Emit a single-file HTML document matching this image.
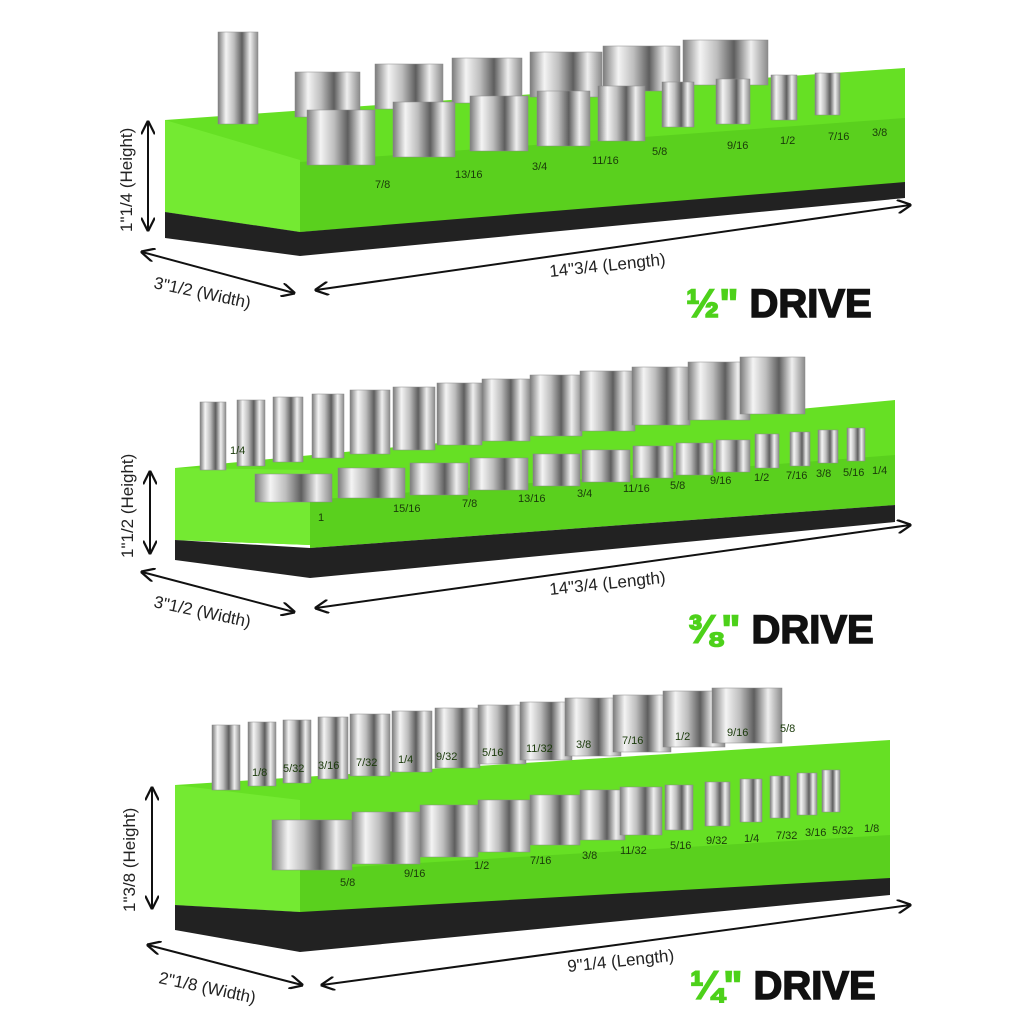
<!DOCTYPE html>
<html><head><meta charset="utf-8"><style>
html,body{margin:0;padding:0;background:#fff;}
svg{display:block}
text{font-family:"Liberation Sans",sans-serif;}
.l{font-size:11px;fill:#1a3a0a;}
.d{font-size:17px;fill:#222;}
.big{font-size:40px;font-weight:bold;fill:#111;stroke:#111;stroke-width:1.5;}
.g{fill:#4dd11a;stroke:#4dd11a;}
</style></head><body>
<svg width="1024" height="1024" viewBox="0 0 1024 1024" xmlns="http://www.w3.org/2000/svg">
<defs>
<linearGradient id="s" x1="0" x2="1" y1="0" y2="0">
<stop offset="0" stop-color="#7a7a7a"/><stop offset=".2" stop-color="#f4f4f4"/><stop offset=".4" stop-color="#bdbdbd"/><stop offset=".6" stop-color="#5e5e5e"/><stop offset=".8" stop-color="#efefef"/><stop offset="1" stop-color="#8a8a8a"/>
</linearGradient>
<marker id="a" viewBox="0 0 10 10" refX="9" refY="5" markerWidth="7" markerHeight="7" orient="auto-start-reverse"><path d="M0,0 L10,5 L0,10" fill="none" stroke="#111" stroke-width="1.6"/></marker>
</defs>

<!-- PANEL 1 -->
<polygon points="165,120 905,68 905,185 300,232 165,212" fill="#66e024"/>
<polygon points="165,120 300,160 300,232 165,212" fill="#74ea32"/>
<polygon points="300,162 905,118 905,185 300,232" fill="#5ad01e"/>
<polygon points="165,212 300,232 905,182 905,198 300,256 165,238" fill="#222"/>
<g fill="url(#s)" stroke="#888" stroke-width=".5">
<rect x="218" y="32" width="40" height="92"/>
<rect x="295" y="72" width="65" height="45"/><rect x="375" y="64" width="68" height="45"/><rect x="452" y="58" width="70" height="45"/><rect x="530" y="52" width="72" height="45"/><rect x="603" y="46" width="77" height="45"/><rect x="683" y="40" width="85" height="45"/>
<rect x="307" y="110" width="68" height="55"/><rect x="393" y="102" width="62" height="55"/><rect x="470" y="96" width="58" height="55"/><rect x="537" y="91" width="53" height="55"/><rect x="598" y="86" width="47" height="55"/>
<rect x="662" y="82" width="32" height="45"/><rect x="716" y="79" width="34" height="45"/><rect x="771" y="75" width="26" height="45"/><rect x="815" y="73" width="25" height="42"/>
</g>
<g class="l">
<text x="375" y="188">7/8</text><text x="455" y="178">13/16</text><text x="532" y="170">3/4</text><text x="592" y="164">11/16</text><text x="652" y="155">5/8</text><text x="727" y="149">9/16</text><text x="780" y="144">1/2</text><text x="828" y="140">7/16</text><text x="872" y="136">3/8</text>
</g>
<line x1="148" y1="122" x2="148" y2="230" stroke="#111" stroke-width="2" marker-start="url(#a)" marker-end="url(#a)"/>
<text class="d" transform="translate(132,232) rotate(-90)">1"1/4 (Height)</text>
<line x1="142" y1="252" x2="294" y2="293" stroke="#111" stroke-width="2" marker-start="url(#a)" marker-end="url(#a)"/>
<text class="d" transform="translate(153,288) rotate(12)">3"1/2 (Width)</text>
<line x1="316" y1="290" x2="910" y2="205" stroke="#111" stroke-width="2" marker-start="url(#a)" marker-end="url(#a)"/>
<text class="d" transform="translate(550,277) rotate(-6)">14"3/4 (Length)</text>
<text class="big" x="686" y="317"><tspan class="g">½"</tspan> DRIVE</text>

<!-- PANEL 2 -->
<polygon points="175,468 895,400 895,505 310,545 175,540" fill="#66e024"/>
<polygon points="175,468 310,470 310,545 175,540" fill="#74ea32"/>
<polygon points="310,500 895,455 895,505 310,548" fill="#5ad01e"/>
<polygon points="175,540 310,548 895,505 895,522 310,578 175,560" fill="#222"/>
<g fill="url(#s)" stroke="#888" stroke-width=".5">
<rect x="200" y="402" width="26" height="68"/><rect x="237" y="400" width="28" height="66"/><rect x="273" y="397" width="30" height="65"/><rect x="312" y="394" width="32" height="64"/><rect x="350" y="390" width="40" height="64"/><rect x="393" y="387" width="42" height="63"/><rect x="437" y="383" width="45" height="62"/><rect x="482" y="379" width="48" height="62"/><rect x="530" y="375" width="52" height="61"/><rect x="580" y="371" width="55" height="60"/><rect x="632" y="367" width="58" height="58"/><rect x="688" y="362" width="62" height="58"/><rect x="740" y="357" width="65" height="57"/>
<rect x="255" y="474" width="77" height="28"/><rect x="338" y="468" width="67" height="30"/><rect x="410" y="463" width="58" height="32"/><rect x="470" y="458" width="58" height="32"/><rect x="533" y="454" width="47" height="32"/><rect x="582" y="450" width="48" height="32"/><rect x="633" y="446" width="40" height="32"/><rect x="676" y="443" width="37" height="32"/><rect x="716" y="440" width="34" height="32"/>
<rect x="755" y="434" width="24" height="34"/><rect x="790" y="432" width="20" height="34"/><rect x="818" y="430" width="20" height="33"/><rect x="847" y="428" width="18" height="33"/>
</g>
<g class="l">
<text x="318" y="521">1</text><text x="393" y="512">15/16</text><text x="462" y="507">7/8</text><text x="518" y="502">13/16</text><text x="577" y="497">3/4</text><text x="623" y="492">11/16</text><text x="670" y="489">5/8</text><text x="710" y="484">9/16</text><text x="754" y="481">1/2</text><text x="786" y="479">7/16</text><text x="816" y="477">3/8</text><text x="843" y="476">5/16</text><text x="872" y="474">1/4</text>
<text x="230" y="454">1/4</text>
</g>
<line x1="150" y1="472" x2="150" y2="553" stroke="#111" stroke-width="2" marker-start="url(#a)" marker-end="url(#a)"/>
<text class="d" transform="translate(133,558) rotate(-90)">1"1/2 (Height)</text>
<line x1="142" y1="572" x2="294" y2="612" stroke="#111" stroke-width="2" marker-start="url(#a)" marker-end="url(#a)"/>
<text class="d" transform="translate(153,607) rotate(12)">3"1/2 (Width)</text>
<line x1="316" y1="608" x2="910" y2="525" stroke="#111" stroke-width="2" marker-start="url(#a)" marker-end="url(#a)"/>
<text class="d" transform="translate(550,595) rotate(-6)">14"3/4 (Length)</text>
<text class="big" x="688" y="643"><tspan class="g">⅜"</tspan> DRIVE</text>

<!-- PANEL 3 -->
<polygon points="175,785 890,740 890,880 300,912 175,905" fill="#66e024"/>
<polygon points="175,785 300,800 300,912 175,905" fill="#74ea32"/>
<polygon points="300,870 890,835 890,880 300,915" fill="#5ad01e"/>
<polygon points="175,905 300,912 890,878 890,895 300,952 175,930" fill="#222"/>
<g fill="url(#s)" stroke="#888" stroke-width=".5">
<rect x="212" y="725" width="28" height="65"/><rect x="248" y="722" width="28" height="64"/><rect x="283" y="720" width="28" height="63"/><rect x="318" y="717" width="30" height="62"/><rect x="350" y="714" width="40" height="62"/><rect x="392" y="711" width="40" height="61"/><rect x="435" y="708" width="45" height="60"/><rect x="478" y="705" width="48" height="59"/><rect x="520" y="702" width="52" height="58"/><rect x="565" y="698" width="56" height="58"/><rect x="613" y="695" width="58" height="57"/><rect x="663" y="691" width="62" height="56"/><rect x="712" y="688" width="70" height="55"/>
<rect x="272" y="820" width="80" height="50"/><rect x="352" y="812" width="68" height="52"/><rect x="420" y="805" width="58" height="52"/><rect x="478" y="800" width="52" height="52"/><rect x="530" y="795" width="50" height="50"/><rect x="580" y="790" width="45" height="50"/><rect x="620" y="787" width="42" height="48"/>
<rect x="665" y="785" width="28" height="45"/><rect x="705" y="782" width="25" height="44"/><rect x="740" y="779" width="22" height="43"/><rect x="770" y="776" width="20" height="42"/><rect x="797" y="773" width="20" height="42"/><rect x="822" y="770" width="18" height="42"/>
</g>
<g class="l">
<text x="340" y="886">5/8</text><text x="404" y="877">9/16</text><text x="474" y="869">1/2</text><text x="530" y="864">7/16</text><text x="582" y="859">3/8</text><text x="620" y="854">11/32</text><text x="670" y="849">5/16</text><text x="706" y="844">9/32</text><text x="744" y="842">1/4</text><text x="776" y="839">7/32</text><text x="805" y="836">3/16</text><text x="832" y="834">5/32</text><text x="864" y="832">1/8</text>
<text x="252" y="776">1/8</text><text x="283" y="772">5/32</text><text x="318" y="769">3/16</text><text x="356" y="766">7/32</text><text x="398" y="763">1/4</text><text x="436" y="760">9/32</text><text x="482" y="756">5/16</text><text x="526" y="752">11/32</text><text x="576" y="748">3/8</text><text x="622" y="744">7/16</text><text x="675" y="740">1/2</text><text x="727" y="736">9/16</text><text x="780" y="732">5/8</text>
</g>
<line x1="152" y1="788" x2="152" y2="908" stroke="#111" stroke-width="2" marker-start="url(#a)" marker-end="url(#a)"/>
<text class="d" transform="translate(135,912) rotate(-90)">1"3/8 (Height)</text>
<line x1="148" y1="945" x2="302" y2="985" stroke="#111" stroke-width="2" marker-start="url(#a)" marker-end="url(#a)"/>
<text class="d" transform="translate(158,983) rotate(12)">2"1/8 (Width)</text>
<line x1="322" y1="985" x2="910" y2="905" stroke="#111" stroke-width="2" marker-start="url(#a)" marker-end="url(#a)"/>
<text class="d" transform="translate(568,972) rotate(-6)">9"1/4 (Length)</text>
<text class="big" x="690" y="999"><tspan class="g">¼"</tspan> DRIVE</text>
</svg>
</body></html>
